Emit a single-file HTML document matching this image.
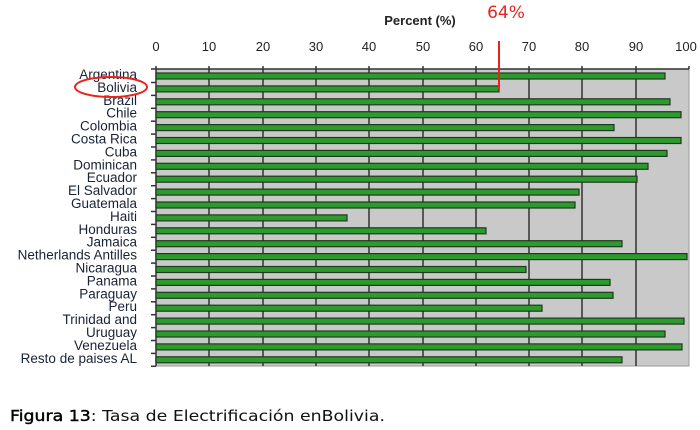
<!DOCTYPE html>
<html><head><meta charset="utf-8"><style>
html,body{margin:0;padding:0;background:#fff;}
svg{display:block;font-family:"Liberation Sans",Arial,sans-serif;}
.dj{font-family:"DejaVu Sans",sans-serif;}
</style></head><body>
<svg width="700" height="430" xmlns="http://www.w3.org/2000/svg">
<rect x="0" y="0" width="700" height="430" fill="#fff"/>
<text x="420" y="25" font-size="13" font-weight="bold" fill="#222" text-anchor="middle">Percent (%)</text>
<text x="506" y="18" font-size="17" fill="#e8231e" text-anchor="middle" class="dj">64%</text>
<g font-size="13" fill="#222" text-anchor="middle">
<text x="156" y="51">0</text><text x="209" y="51">10</text><text x="263" y="51">20</text><text x="316" y="51">30</text><text x="369" y="51">40</text><text x="423" y="51">50</text><text x="476" y="51">60</text><text x="529" y="51">70</text><text x="582" y="51">80</text><text x="636" y="51">90</text><text x="686" y="51">100</text>
</g>
<rect x="156" y="69" width="533" height="297" fill="#c9c9c9" stroke="#999" stroke-width="1"/>
<g stroke="#333" stroke-width="1.5">
<line x1="209" y1="66" x2="209" y2="366"/><line x1="263" y1="66" x2="263" y2="366"/><line x1="316" y1="66" x2="316" y2="366"/><line x1="369" y1="66" x2="369" y2="366"/><line x1="423" y1="66" x2="423" y2="366"/><line x1="476" y1="66" x2="476" y2="366"/><line x1="529" y1="66" x2="529" y2="366"/><line x1="582" y1="66" x2="582" y2="366"/><line x1="636" y1="66" x2="636" y2="366"/>
<line x1="156" y1="66" x2="156" y2="366"/><line x1="689" y1="66" x2="689" y2="69"/>
<line x1="156" y1="69" x2="689" y2="69"/>
</g>
<g stroke="#333" stroke-width="1.5" id="ticks"></g>
<g id="bars" fill="#2d9a2d" stroke="#1f3a1f" stroke-width="1.2"></g>
<g id="labels" font-size="13.5" fill="#1a2235" text-anchor="end"></g>
<line x1="499" y1="41" x2="499" y2="89" stroke="#e8231e" stroke-width="2"/>
<ellipse cx="111" cy="87" rx="36" ry="10" fill="none" stroke="#e8231e" stroke-width="2"/>
<text x="10" y="421" font-size="15.5" fill="#111" class="dj" textLength="375" lengthAdjust="spacingAndGlyphs"><tspan fill="#000" stroke="#000" stroke-width="0.4">Figura 13</tspan>: Tasa de Electrificación enBolivia.</text>
</svg>
<script>
var d=[["Argentina",665],["Bolivia",499],["Brazil",670],["Chile",681],["Colombia",614],["Costa Rica",681],["Cuba",667],["Dominican",648],["Ecuador",637],["El Salvador",579],["Guatemala",575],["Haiti",347],["Honduras",486],["Jamaica",622],["Netherlands Antilles",687],["Nicaragua",526],["Panama",610],["Paraguay",613],["Peru",542],["Trinidad and",684],["Uruguay",665],["Venezuela",682],["Resto de paises AL",622]];
var ns="http://www.w3.org/2000/svg",b=document.getElementById("bars"),l=document.getElementById("labels"),t=document.getElementById("ticks");
d.forEach(function(e,i){var c=76+i*12.9;
var r=document.createElementNS(ns,"rect");r.setAttribute("x",156);r.setAttribute("y",c-3);r.setAttribute("width",e[1]-156);r.setAttribute("height",6);b.appendChild(r);
var x=document.createElementNS(ns,"text");x.setAttribute("x",137);x.setAttribute("y",c+3);x.textContent=e[0];l.appendChild(x);
var k=document.createElementNS(ns,"line");k.setAttribute("x1",151);k.setAttribute("x2",156);k.setAttribute("y1",c+6.5);k.setAttribute("y2",c+6.5);t.appendChild(k);});
var k=document.createElementNS(ns,"line");k.setAttribute("x1",151);k.setAttribute("x2",156);k.setAttribute("y1",69);k.setAttribute("y2",69);t.appendChild(k);
</script>
</body></html>
